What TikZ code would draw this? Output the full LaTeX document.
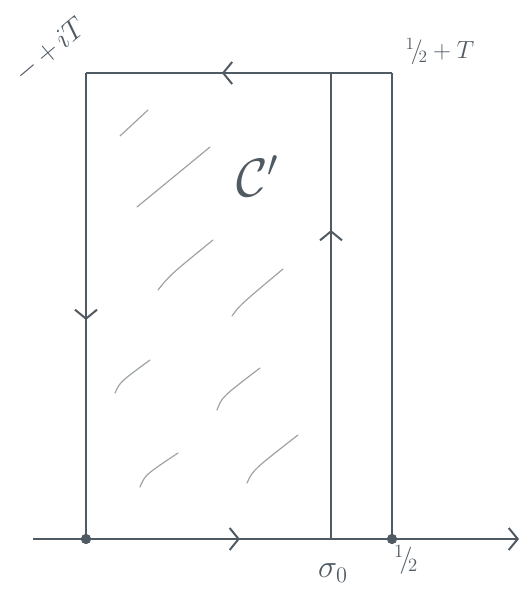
\documentclass[tikz,border=0pt]{standalone}
\usetikzlibrary{arrows.meta,decorations.markings}
\definecolor{ink}{HTML}{505A63}
\definecolor{hatch}{HTML}{9EA3A8}
\tikzset{
  contour/.style={ink, line width=2pt},
  thinline/.style={ink, line width=1.4pt},
  chev/.style={postaction={decorate, decoration={markings, mark=at position #1 with {\arrow[ink, line width=2pt]{Straight Barb[length=9pt, width=22pt]}}}}},
  hatchline/.style={hatch, line width=1.2pt, line cap=round},
  dot/.style={circle, fill=ink, inner sep=0pt, minimum size=10pt},
  lbl/.style={ink, inner sep=1pt, font=\huge, transform shape},
}
\begin{document}
\begin{tikzpicture}[x=1pt, y=-1pt]
\useasboundingbox (0,0) rectangle (523,593);
% coordinates
\coordinate (axL) at (33,539);
\coordinate (axR) at (519,539);
\node[dot] (A) at (86,539) {};
\node[dot] (B) at (392,539) {};
\coordinate (TL) at (86,73);
\coordinate (TR) at (392,73);
\coordinate (S0) at (331,539);
\coordinate (S1) at (331,73);
% hatching
\draw[hatchline] (120,136) -- (148,110);
\draw[hatchline] (137,207) -- (210,147);
\draw[hatchline] (158,290) .. controls (170,275) .. (213,240);
\draw[hatchline] (232,316) .. controls (240,305) .. (283,269);
\draw[hatchline] (115,393) .. controls (120,382) .. (150,360);
\draw[hatchline] (217,410) .. controls (222,397) .. (260,368);
\draw[hatchline] (140,487) .. controls (145,475) .. (178,453);
\draw[hatchline] (247,483) .. controls (253,470) .. (298,435);
% axis
\draw[thinline, -{Straight Barb[length=9pt, width=22pt, line width=2pt]}] (axL) -- (axR);
% contour
\draw[contour, chev=0.503] (A.center) -- (B.center);
\draw[contour] (B.center) -- (TR);
\draw[contour, chev=0.556] (TR) -- (TL);
\draw[contour, chev=0.53] (TL) -- (A.center);
\draw[thinline, chev=0.663] (S0) -- (S1);
\node[dot] at (A) {};
\node[dot] at (B) {};
% labels
\node[lbl, rotate=40, scale=1.4] (lt) at (50,50) {$-\,{+}\,iT$};
\node[lbl, scale=1.2] (rt) at (440,52) {$^1\!/\!_2+T$};
\node[lbl, scale=2.6] (c) at (258,176) {$\mathcal{C}'$};
\node[lbl, scale=1.55] (s) at (333,573) {$\sigma_0$};
\node[lbl, scale=1.3] (h) at (406,560) {$^1\!/\!_2$};
\end{tikzpicture}
\end{document}
